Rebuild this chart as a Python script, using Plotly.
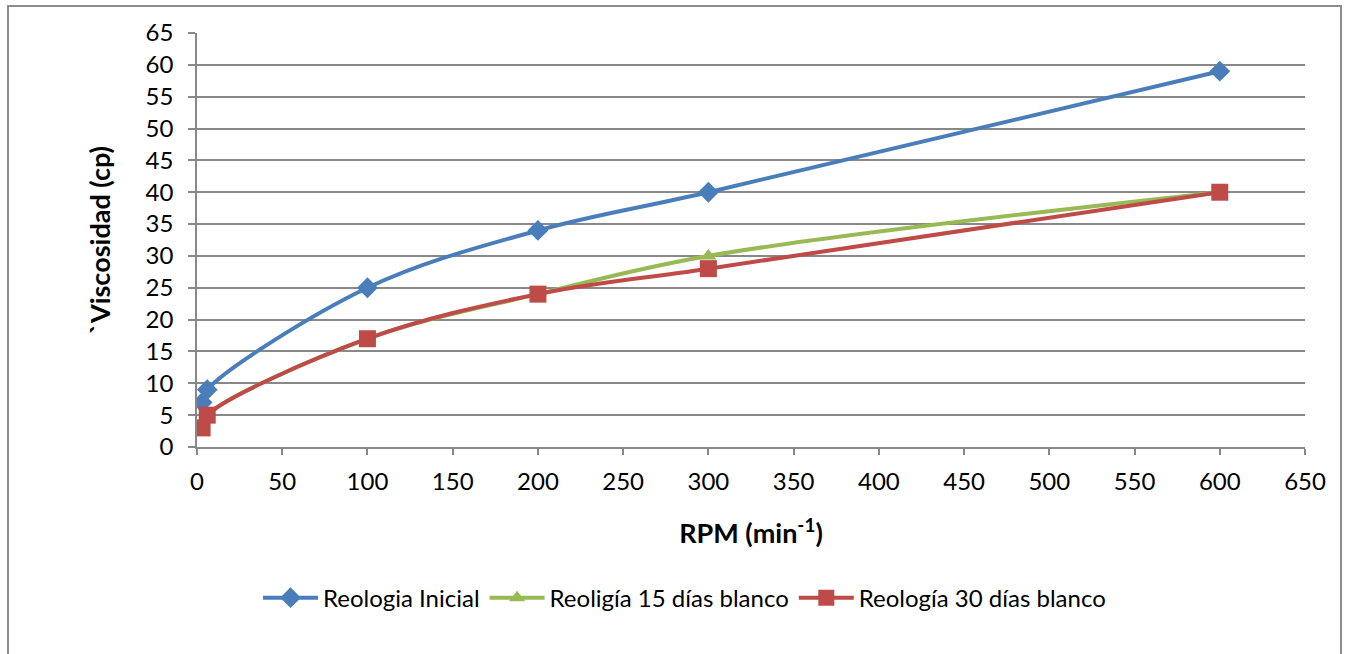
import plotly.graph_objects as go

rpm = [3, 6, 100, 200, 300, 600]
inicial = [7, 9, 25, 34, 40, 59]
dias15 = [3, 5, 17, 24, 30, 40]
dias30 = [3, 5, 17, 24, 28, 40]

x_ticks = list(range(0, 651, 50))
y_ticks = list(range(0, 66, 5))

FONT = "Lato"
GRID = "#888888"

fig = go.Figure()
fig.add_trace(go.Scatter(
    x=rpm, y=inicial, name="Reologia Inicial", mode="lines+markers",
    line=dict(color="#4A7EBB", width=4, shape="spline", smoothing=1),
    marker=dict(symbol="diamond", size=16, color="#4A7EBB")))
fig.add_trace(go.Scatter(
    x=rpm, y=dias15, name="Reoligía 15 días blanco", mode="lines+markers",
    line=dict(color="#98B954", width=4, shape="spline", smoothing=1),
    marker=dict(symbol="triangle-up", size=14, color="#98B954")))
fig.add_trace(go.Scatter(
    x=rpm, y=dias30, name="Reología 30 días blanco", mode="lines+markers",
    line=dict(color="#BE4B48", width=4, shape="spline", smoothing=1),
    marker=dict(symbol="square", size=17, color="#BE4B48")))

fig.update_layout(
    width=1348, height=654,
    margin=dict(l=197, r=43, t=33, b=207, autoexpand=False),
    paper_bgcolor="white", plot_bgcolor="white",
    font=dict(family=FONT, size=24, color="#000000"),
    showlegend=True,
    legend=dict(orientation="h", x=0.44, y=-0.365, xanchor="center", yanchor="middle",
                font=dict(size=24, color="#000000"), itemwidth=55,
                traceorder="normal", itemsizing="trace"),
    xaxis=dict(range=[0, 650], tickvals=x_ticks, showgrid=False, zeroline=False,
               showline=True, linecolor=GRID, linewidth=1.5,
               ticks="outside", ticklen=6, tickcolor=GRID, tickwidth=1.5,
               ticklabelstandoff=6,
               tickfont=dict(size=24, family=FONT),
               title=dict(text="<b>RPM (min<sup>-1</sup>)</b>", font=dict(size=27, family=FONT), standoff=31)),
    yaxis=dict(range=[0, 65], tickvals=y_ticks, showgrid=True, gridcolor=GRID, gridwidth=1.5,
               zeroline=False, showline=True, linecolor=GRID, linewidth=1.5,
               ticks="outside", ticklen=7, tickcolor=GRID, tickwidth=1.5,
               ticklabelstandoff=10,
               tickfont=dict(size=24, family=FONT),
               title=dict(text="<b>`Viscosidad (cp)</b>", font=dict(size=27, family=FONT), standoff=27)),
)

# outer chart border
fig.add_shape(type="rect", xref="paper", yref="paper",
              x0=(8 - 197) / 1108, x1=(1341 - 197) / 1108,
              y0=(447 - 700) / 414, y1=(447 - 6) / 414,
              line=dict(color="#8c8c8c", width=2), fillcolor="rgba(0,0,0,0)", layer="below")

fig.write_html("out.html")
